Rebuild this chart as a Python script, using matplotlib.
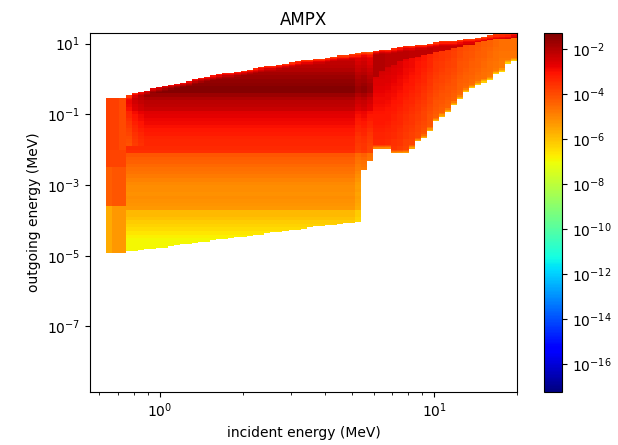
import numpy as np
import matplotlib
matplotlib.use('Agg')
import matplotlib.pyplot as plt
from matplotlib.colors import LogNorm

# log10 of the incident energy bin edges (MeV)
inc_edges = [-0.198, -0.174, -0.150, -0.124, -0.102, -0.080, -0.058, -0.036, -0.014, 0.008,
             0.030, 0.052, 0.074, 0.096, 0.117, 0.139, 0.161, 0.183, 0.205, 0.227,
             0.249, 0.271, 0.293, 0.315, 0.337, 0.358, 0.380, 0.402, 0.424, 0.446,
             0.468, 0.490, 0.512, 0.534, 0.556, 0.578, 0.600, 0.621, 0.643, 0.665,
             0.687, 0.709, 0.731, 0.753, 0.775, 0.797, 0.819, 0.841, 0.863, 0.884,
             0.906, 0.928, 0.950, 0.972, 0.994, 1.016, 1.038, 1.060, 1.082, 1.104,
             1.125, 1.147, 1.169, 1.191, 1.213, 1.235, 1.257, 1.279, 1.301]

# log10 of outgoing energy bin edges (MeV)
out_edges = [-5.0, -4.9, -4.8, -4.7, -4.6, -4.5, -4.4, -4.3, -4.2, -4.1,
             -4.0, -3.9, -3.8, -3.7, -3.6, -3.5, -3.4, -3.3, -3.2, -3.1,
             -3.0, -2.9, -2.8, -2.7, -2.6, -2.5, -2.4, -2.3, -2.2, -2.1,
             -2.0, -1.9, -1.8, -1.7, -1.6, -1.5, -1.4, -1.3, -1.2, -1.1,
             -1.0, -0.9, -0.8, -0.7, -0.6, -0.5, -0.4, -0.3, -0.2, -0.1,
             0.0, 0.1, 0.2, 0.3, 0.4, 0.5, 0.6, 0.7, 0.8, 0.9,
             1.0, 1.1, 1.2, 1.3]

# upper / lower limit of the filled area per incident bin (log10 MeV)
top_edge = [-0.53, -0.53, -0.53, -0.47, -0.41, -0.37, -0.33, -0.27, -0.24, -0.20,
            -0.16, -0.13, -0.09, -0.05, 0.00, 0.04, 0.07, 0.10, 0.12, 0.15,
            0.18, 0.21, 0.24, 0.27, 0.29, 0.32, 0.35, 0.38, 0.41, 0.44,
            0.46, 0.49, 0.52, 0.53, 0.55, 0.58, 0.60, 0.63, 0.65, 0.66,
            0.69, 0.72, 0.75, 0.76, 0.79, 0.82, 0.84, 0.87, 0.89, 0.92,
            0.94, 0.96, 0.97, 1.00, 1.03, 1.06, 1.07, 1.08, 1.11, 1.13,
            1.14, 1.17, 1.20, 1.23, 1.25, 1.27, 1.28, 1.30]
low_edge = [-4.93, -4.93, -4.93, -4.88, -4.86, -4.84, -4.81, -4.79, -4.77, -4.75,
            -4.72, -4.70, -4.68, -4.66, -4.63, -4.61, -4.59, -4.57, -4.54, -4.52,
            -4.50, -4.48, -4.45, -4.43, -4.41, -4.39, -4.36, -4.34, -4.32, -4.30,
            -4.27, -4.25, -4.23, -4.21, -4.18, -4.16, -4.14, -4.12, -4.09, -4.07,
            -4.05, -4.03, -2.56, -2.33, -1.97, -1.97, -1.97, -2.11, -2.11, -2.11,
            -1.97, -1.78, -1.66, -1.46, -1.20, -1.08, -0.92, -0.72, -0.55, -0.38,
            -0.27, -0.16, -0.10, -0.02, 0.12, 0.21, 0.44, 0.50]

# log10 of the value per outgoing bin in the main region
main_row = [-6.9, -6.9, -6.9, -6.9, -6.9, -6.8, -6.6, -6.4, -6.3, -6.15,
            -6.0, -5.9, -5.85, -5.3, -5.25, -5.2, -5.15, -5.2, -5.1, -5.15,
            -5.05, -4.95, -4.8, -4.7, -4.6, -4.5, -4.4, -4.3, -4.2, -3.5,
            -3.45, -3.4, -3.35, -3.3, -3.2, -3.1, -3.0, -2.9, -2.8, -2.7,
            -2.6, -2.3, -2.2, -2.1, -1.95, -1.7, -1.4, -1.4, -1.5, -1.6,
            -1.7, -1.85, -2.0, -2.1, -2.2, -2.3, -2.4, -2.5, -2.6, -2.7,
            -3.0, -3.0, -3.0]

# first three incident bins, listed from out_edges[0] upward
left_col0 = [-5.6] * 14 + [-4.3] * 11 + [-3.9] * 5 + [-3.8] * 15 + [-5.2] * 3
left_col1 = [-5.3] * 14 + [-4.2] * 11 + [-3.9] * 5 + [-3.8] * 15 + [-3.8] * 3
left_col2 = [-5.3] * 14 + [-4.2] * 11 + [-3.9] * 5 + [-4.0] * 15 + [-4.1] * 3

# region above 6 MeV: row shift from -2.45 up, then values for bins 44 to 67
right_row = [-1.5, -1.5, -1.4, -1.4, -1.3, -1.3, -1.2, -1.2, -1.1, -1.1,
             -1.05, -1.0, -0.95, -0.9, -0.9, -0.85, -0.8, -0.75, -0.7, -0.65,
             -0.6, -0.55, -0.5, -0.45, -0.4, -0.35, -0.3, -0.25, -0.2, -0.2,
             -0.15, -0.1, -0.1, -0.05, 0.0, 0.0, 0.0, 0.0]
right_base = [-2.2, -2.2, -2.25, -2.35, -2.45, -2.6, -2.7, -2.85, -3.0, -3.2, -3.4, -3.5,
              -3.6, -3.7, -3.9, -4.0, -4.1, -4.2, -4.3, -4.4, -4.5, -4.6, -4.6, -4.6]
wedge_rows = [22, 18, 15, 14, 12, 11, 10, 10, 9, 9, 8, 8, 7, 6, 6, 5, 5, 4, 4, 4, 4, 4, 4, 4]
wedge_value = [-2.0, -2.0, -2.1, -2.1, -2.1, -2.1, -2.2, -2.2, -2.2, -2.2, -2.3, -2.3,
               -2.3, -2.3, -2.4, -2.4, -2.4, -2.5, -2.5, -2.5, -2.5, -2.4, -2.3, -2.2]

# lighter cells along the edges of the filled area, counted in fine cells
top_fade = [-1.3, -0.9, -0.5, -0.2]
low_fade = [-1.5, -0.9, -0.4]
cols_fade = {3: -0.7, 4: -0.35, 5: -0.15, 41: -0.3, 42: -0.2, 43: -0.4}

y_ticks = [1e1, 1e-1, 1e-3, 1e-5, 1e-7]
cbar_ticks = [1e-2, 1e-4, 1e-6, 1e-8, 1e-10, 1e-12, 1e-14, 1e-16]

# ==========================================================================
# fill the grid, each outgoing bin is cut in 3 so the edges stay smooth
# ==========================================================================
n_cut = 3
n_col = len(inc_edges) - 1
n_row = (len(out_edges) - 1) * n_cut
fine_edges = np.linspace(out_edges[0], out_edges[-1], n_row + 1)
fine_mid = (fine_edges[:-1] + fine_edges[1:]) / 2
grid = np.full((n_row, n_col), np.nan)

for c in range(n_col):
    rows = np.where((fine_mid >= low_edge[c]) & (fine_mid <= top_edge[c]))[0]
    for k, f in enumerate(rows):
        r = f // n_cut
        from_top = len(rows) - 1 - k
        if c == 0:
            v = left_col0[r]
        elif c == 1:
            v = left_col1[r]
        elif c == 2:
            v = left_col2[r]
        elif c < 44:
            v = main_row[r]
            if c < 6 and r > 30:
                v += cols_fade[c]
            elif c > 40:
                v += cols_fade[c]
            if from_top < len(top_fade):
                v += top_fade[from_top]
        else:
            j = c - 44
            if from_top < wedge_rows[j]:
                v = wedge_value[j]
                if from_top < len(top_fade):
                    v += top_fade[from_top]
            else:
                v = right_base[j] + right_row[max(r - 25, 0)]
            if k < len(low_fade):
                v += low_fade[k]
        grid[f, c] = 10.0 ** v

# ==========================================================================
# plot
# ==========================================================================
fig = plt.figure(figsize=(6.18, 4.45), dpi=100)
ax = fig.add_axes([90 / 618, 53 / 445, 427 / 618, 359 / 445])
cax = fig.add_axes([544 / 618, 53 / 445, 18 / 618, 359 / 445])

mesh = ax.pcolormesh(10.0 ** np.array(inc_edges), 10.0 ** fine_edges, grid,
                     cmap='jet', norm=LogNorm(vmin=10 ** -17.24, vmax=10 ** -1.29))
ax.set_xscale('log')
ax.set_yscale('log')
ax.set_xlim(0.555, 20)
ax.set_ylim(1.4e-9, 20)
ax.set_yticks(y_ticks)
ax.yaxis.set_minor_locator(matplotlib.ticker.NullLocator())
ax.set_title('AMPX')
ax.set_xlabel('incident energy (MeV)')
ax.set_ylabel('outgoing energy (MeV)')

cbar = fig.colorbar(mesh, cax=cax)
cbar.set_ticks(cbar_ticks)
cbar.ax.yaxis.set_minor_locator(matplotlib.ticker.NullLocator())

fig.savefig('out.png', dpi=100)
